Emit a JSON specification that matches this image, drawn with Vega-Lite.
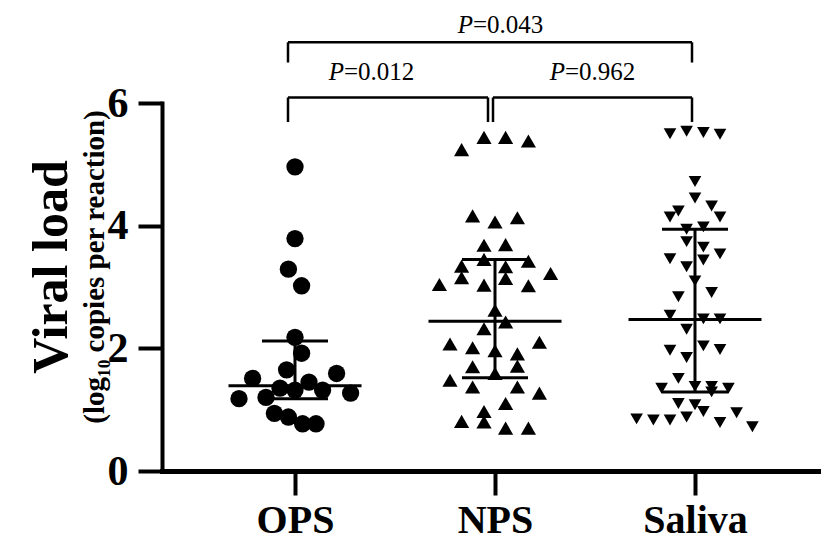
{
  "$schema": "https://vega.github.io/schema/vega-lite/v6.json",
  "width": 666,
  "height": 368,
  "autosize": {"type": "none"},
  "padding": {"left": 162, "top": 103, "right": 0, "bottom": 70},
  "background": "white",
  "config": {"view": {"stroke": null}},
  "title": {
    "text": "Viral load",
    "subtitle": "(log₁₀ copies per reaction)",
    "orient": "left",
    "anchor": "middle",
    "font": "Liberation Serif",
    "fontSize": 50,
    "fontWeight": "bold",
    "color": "black",
    "subtitleFont": "Liberation Serif",
    "subtitleFontSize": 29,
    "subtitleFontWeight": "bold",
    "subtitleColor": "black",
    "subtitlePadding": 4,
    "offset": -3,
    "dx": 20
  },
  "datasets": {
    "points": [
      {"g": "OPS", "j": 0, "v": 4.96}, {"g": "OPS", "j": 0, "v": 3.79}, {"g": "OPS", "j": -0.033, "v": 3.29}, {"g": "OPS", "j": 0.033, "v": 3.02},
      {"g": "OPS", "j": 0, "v": 2.18}, {"g": "OPS", "j": 0.033, "v": 1.92}, {"g": "OPS", "j": -0.042, "v": 1.65}, {"g": "OPS", "j": 0.208, "v": 1.59},
      {"g": "OPS", "j": -0.212, "v": 1.51}, {"g": "OPS", "j": -0.075, "v": 1.35}, {"g": "OPS", "j": 0, "v": 1.32}, {"g": "OPS", "j": 0.07, "v": 1.45},
      {"g": "OPS", "j": 0.138, "v": 1.32}, {"g": "OPS", "j": 0.278, "v": 1.27}, {"g": "OPS", "j": -0.28, "v": 1.18}, {"g": "OPS", "j": -0.145, "v": 1.2},
      {"g": "OPS", "j": -0.103, "v": 0.94}, {"g": "OPS", "j": -0.033, "v": 0.88}, {"g": "OPS", "j": 0.038, "v": 0.77}, {"g": "OPS", "j": 0.105, "v": 0.77},
      {"g": "NPS", "j": -0.167, "v": 5.24}, {"g": "NPS", "j": -0.055, "v": 5.44}, {"g": "NPS", "j": 0.053, "v": 5.44}, {"g": "NPS", "j": 0.167, "v": 5.38},
      {"g": "NPS", "j": -0.112, "v": 4.16}, {"g": "NPS", "j": 0, "v": 4.06}, {"g": "NPS", "j": 0.112, "v": 4.13}, {"g": "NPS", "j": -0.055, "v": 3.68},
      {"g": "NPS", "j": 0.053, "v": 3.69}, {"g": "NPS", "j": -0.055, "v": 3.45}, {"g": "NPS", "j": 0.167, "v": 3.42}, {"g": "NPS", "j": -0.167, "v": 3.34},
      {"g": "NPS", "j": 0.053, "v": 3.33}, {"g": "NPS", "j": -0.167, "v": 3.15}, {"g": "NPS", "j": 0.053, "v": 3.14}, {"g": "NPS", "j": 0.278, "v": 3.22},
      {"g": "NPS", "j": -0.278, "v": 3.04}, {"g": "NPS", "j": -0.055, "v": 3.03}, {"g": "NPS", "j": 0.167, "v": 3.02}, {"g": "NPS", "j": 0, "v": 2.62},
      {"g": "NPS", "j": 0.053, "v": 2.43}, {"g": "NPS", "j": -0.055, "v": 2.32}, {"g": "NPS", "j": -0.225, "v": 2.07}, {"g": "NPS", "j": -0.112, "v": 2.01},
      {"g": "NPS", "j": 0, "v": 1.96}, {"g": "NPS", "j": 0.112, "v": 1.91}, {"g": "NPS", "j": 0.222, "v": 2.1}, {"g": "NPS", "j": -0.112, "v": 1.7},
      {"g": "NPS", "j": 0.112, "v": 1.71}, {"g": "NPS", "j": 0, "v": 1.59}, {"g": "NPS", "j": -0.225, "v": 1.48}, {"g": "NPS", "j": -0.112, "v": 1.37},
      {"g": "NPS", "j": 0.112, "v": 1.37}, {"g": "NPS", "j": 0.222, "v": 1.27}, {"g": "NPS", "j": 0.053, "v": 1.1}, {"g": "NPS", "j": -0.055, "v": 0.97},
      {"g": "NPS", "j": -0.167, "v": 0.81}, {"g": "NPS", "j": -0.055, "v": 0.8}, {"g": "NPS", "j": 0.053, "v": 0.7}, {"g": "NPS", "j": 0.167, "v": 0.7},
      {"g": "Saliva", "j": -0.125, "v": 5.5}, {"g": "Saliva", "j": -0.042, "v": 5.54}, {"g": "Saliva", "j": 0.042, "v": 5.52}, {"g": "Saliva", "j": 0.125, "v": 5.49},
      {"g": "Saliva", "j": 0, "v": 4.72}, {"g": "Saliva", "j": 0, "v": 4.45}, {"g": "Saliva", "j": 0.083, "v": 4.32}, {"g": "Saliva", "j": -0.083, "v": 4.24},
      {"g": "Saliva", "j": -0.125, "v": 4.14}, {"g": "Saliva", "j": 0.125, "v": 4.14}, {"g": "Saliva", "j": -0.042, "v": 3.94}, {"g": "Saliva", "j": 0.042, "v": 3.98},
      {"g": "Saliva", "j": -0.042, "v": 3.74}, {"g": "Saliva", "j": 0.042, "v": 3.65}, {"g": "Saliva", "j": -0.125, "v": 3.46}, {"g": "Saliva", "j": 0.042, "v": 3.44},
      {"g": "Saliva", "j": 0.125, "v": 3.54}, {"g": "Saliva", "j": -0.042, "v": 3.33}, {"g": "Saliva", "j": 0, "v": 3.1}, {"g": "Saliva", "j": -0.083, "v": 2.84},
      {"g": "Saliva", "j": 0.083, "v": 2.91}, {"g": "Saliva", "j": -0.125, "v": 2.54}, {"g": "Saliva", "j": 0.042, "v": 2.48}, {"g": "Saliva", "j": 0.125, "v": 2.48},
      {"g": "Saliva", "j": -0.042, "v": 2.31}, {"g": "Saliva", "j": -0.125, "v": 1.97}, {"g": "Saliva", "j": 0.042, "v": 2.04}, {"g": "Saliva", "j": 0.125, "v": 1.98},
      {"g": "Saliva", "j": -0.042, "v": 1.85}, {"g": "Saliva", "j": -0.083, "v": 1.51}, {"g": "Saliva", "j": -0.167, "v": 1.35}, {"g": "Saliva", "j": 0, "v": 1.38},
      {"g": "Saliva", "j": 0.083, "v": 1.38}, {"g": "Saliva", "j": 0.167, "v": 1.35}, {"g": "Saliva", "j": 0.083, "v": 1.29}, {"g": "Saliva", "j": -0.083, "v": 1.1},
      {"g": "Saliva", "j": 0, "v": 1.08}, {"g": "Saliva", "j": 0.042, "v": 0.97}, {"g": "Saliva", "j": 0.208, "v": 0.95}, {"g": "Saliva", "j": -0.292, "v": 0.85},
      {"g": "Saliva", "j": -0.208, "v": 0.83}, {"g": "Saliva", "j": -0.125, "v": 0.83}, {"g": "Saliva", "j": -0.042, "v": 0.88}, {"g": "Saliva", "j": 0.125, "v": 0.79},
      {"g": "Saliva", "j": 0.287, "v": 0.72}
    ],
    "summary": [
      {"g": "OPS", "center": 1.39, "lo": 1.18, "hi": 2.12},
      {"g": "NPS", "center": 2.44, "lo": 1.52, "hi": 3.45},
      {"g": "Saliva", "center": 2.47, "lo": 1.29, "hi": 3.94}
    ],
    "brackets": [
      {"x": -0.035, "x2": 1.985, "y": 6.99, "y2": 6.99},
      {"x": -0.035, "x2": -0.035, "y": 6.99, "y2": 6.66},
      {"x": 1.985, "x2": 1.985, "y": 6.99, "y2": 6.66},
      {"x": -0.035, "x2": 0.965, "y": 6.09, "y2": 6.09},
      {"x": -0.035, "x2": -0.035, "y": 6.09, "y2": 5.69},
      {"x": 0.965, "x2": 0.965, "y": 6.09, "y2": 5.69},
      {"x": 0.99, "x2": 1.985, "y": 6.09, "y2": 6.09},
      {"x": 0.99, "x2": 0.99, "y": 6.09, "y2": 5.69},
      {"x": 1.985, "x2": 1.985, "y": 6.09, "y2": 5.69}
    ],
    "labels": [
      {"x": 1.025, "y": 7.27, "p": "P", "rest": "=0.043"},
      {"x": 0.38, "y": 6.5, "p": "P", "rest": "=0.012"},
      {"x": 1.485, "y": 6.5, "p": "P", "rest": "=0.962"}
    ]
  },
  "layer": [
    {
      "encoding": {
        "x": {
          "field": "g",
          "type": "nominal",
          "sort": ["OPS", "NPS", "Saliva"],
          "scale": {"type": "point", "domain": ["OPS", "NPS", "Saliva"], "padding": 0.665},
          "axis": {
            "title": null,
            "labelAngle": 0,
            "domainWidth": 5,
            "domainColor": "black",
            "domainCap": "square",
            "tickWidth": 4,
            "tickColor": "black",
            "tickSize": 24,
            "labelFont": "Liberation Serif",
            "labelFontWeight": "bold",
            "labelFontSize": 40,
            "labelColor": "black",
            "labelPadding": 5
          }
        },
        "y": {
          "type": "quantitative",
          "scale": {"domain": [0, 6], "nice": false, "zero": true},
          "axis": {
            "title": null,
            "values": [0, 2, 4, 6],
            "format": "d",
            "grid": false,
            "domainWidth": 4,
            "domainColor": "black",
            "domainCap": "square",
            "tickWidth": 4,
            "tickColor": "black",
            "tickSize": 24,
            "labelFont": "Liberation Serif",
            "labelFontWeight": "bold",
            "labelFontSize": 42,
            "labelColor": "black",
            "labelPadding": 10
          }
        }
      },
      "layer": [
        {
          "data": {"name": "points"},
          "mark": {"type": "point", "filled": true, "color": "black", "opacity": 1, "strokeWidth": 0},
          "encoding": {
            "y": {"field": "v", "type": "quantitative"},
            "xOffset": {"field": "j", "type": "quantitative", "scale": {"domain": [-0.5, 0.5], "range": [-100, 100]}},
            "shape": {"field": "g", "type": "nominal", "scale": {"domain": ["OPS", "NPS", "Saliva"], "range": ["circle", "triangle-up", "triangle-down"]}, "legend": null},
            "size": {"field": "g", "type": "nominal", "scale": {"domain": ["OPS", "NPS", "Saliva"], "range": [300, 160, 160]}, "legend": null}
          }
        },
        {
          "data": {"name": "summary"},
          "mark": {"type": "rule", "color": "black", "strokeWidth": 3},
          "encoding": {"y": {"field": "lo", "type": "quantitative"}, "y2": {"field": "hi"}}
        },
        {
          "data": {"name": "summary"},
          "mark": {"type": "tick", "color": "black", "thickness": 3, "size": 133, "opacity": 1},
          "encoding": {"y": {"field": "center", "type": "quantitative"}}
        },
        {
          "data": {"name": "summary"},
          "mark": {"type": "tick", "color": "black", "thickness": 3, "size": 66, "opacity": 1},
          "encoding": {"y": {"field": "lo", "type": "quantitative"}}
        },
        {
          "data": {"name": "summary"},
          "mark": {"type": "tick", "color": "black", "thickness": 3, "size": 66, "opacity": 1},
          "encoding": {"y": {"field": "hi", "type": "quantitative"}}
        }
      ]
    },
    {
      "encoding": {
        "x": {"type": "quantitative", "scale": {"domain": [-0.665, 2.665], "nice": false, "zero": false}, "axis": null}
      },
      "layer": [
        {
          "data": {"name": "brackets"},
          "mark": {"type": "rule", "color": "black", "strokeWidth": 2.5, "clip": false},
          "encoding": {
            "x": {"field": "x", "type": "quantitative"},
            "x2": {"field": "x2"},
            "y": {"field": "y", "type": "quantitative"},
            "y2": {"field": "y2"}
          }
        },
        {
          "data": {"name": "labels"},
          "mark": {"type": "text", "font": "Liberation Serif", "fontSize": 25, "fontStyle": "italic", "align": "right", "baseline": "middle", "dx": -27, "color": "black"},
          "encoding": {
            "x": {"field": "x", "type": "quantitative"},
            "y": {"field": "y", "type": "quantitative"},
            "text": {"field": "p"}
          }
        },
        {
          "data": {"name": "labels"},
          "mark": {"type": "text", "font": "Liberation Serif", "fontSize": 25, "align": "left", "baseline": "middle", "dx": -27, "color": "black"},
          "encoding": {
            "x": {"field": "x", "type": "quantitative"},
            "y": {"field": "y", "type": "quantitative"},
            "text": {"field": "rest"}
          }
        }
      ]
    }
  ],
  "resolve": {"scale": {"x": "independent"}}
}
